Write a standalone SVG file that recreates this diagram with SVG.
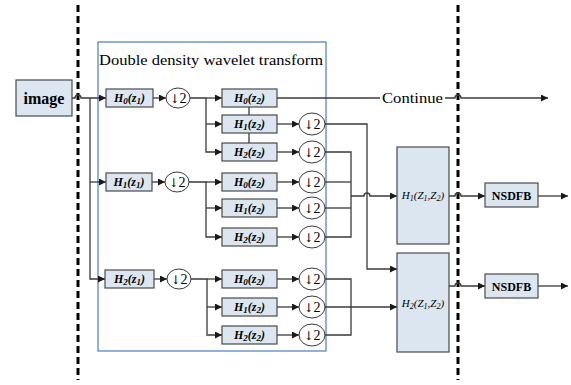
<svg xmlns="http://www.w3.org/2000/svg" width="571" height="385" viewBox="0 0 571 385">
<style>
.ln{fill:none;stroke:#3a3a3a;stroke-width:1.3}
.box{fill:#dce6f0;stroke:#4a4a4a;stroke-width:1.2}
.cir{fill:#fff;stroke:#3a3a3a;stroke-width:1}
.dash{fill:none;stroke:#000;stroke-width:3;stroke-dasharray:7,4}
.t{font-family:"Liberation Serif",serif;fill:#000}
.hl{font-family:"Liberation Serif",serif;font-size:12px;font-weight:bold;font-style:italic;text-anchor:middle;fill:#000}
.dl{font-family:"Liberation Serif",serif;font-size:14px;text-anchor:middle;fill:#000}
.ar{font-family:"DejaVu Serif","DejaVu Sans",serif;font-size:12px;fill:#000}
.bl{font-family:"Liberation Serif",serif;font-size:11px;font-style:italic;text-anchor:middle;fill:#000}
</style>
<defs>
<marker id="ar" markerUnits="userSpaceOnUse" markerWidth="8" markerHeight="8" refX="7" refY="3.5" orient="auto">
<path d="M0,0 L7,3.5 L0,7 z" fill="#1a1a1a"/>
</marker>
</defs>
<g id="boundaries">
<line class="dash" x1="78" y1="5" x2="78" y2="380"/>
<line class="dash" x1="458" y1="5" x2="458" y2="380"/>
<rect x="98" y="42" width="228" height="309" fill="none" stroke="#4a7cc7" stroke-width="1.2"/>
<text class="t" x="99" y="65" font-size="15" textLength="224" lengthAdjust="spacingAndGlyphs">Double density wavelet transform</text>
</g>
<g id="connectors">
<path class="ln" d="M72,98 H75 a3,3 0 0 1 6,0 H106" marker-end="url(#ar)"/>
<path class="ln" d="M90,98 V279 H105" marker-end="url(#ar)"/>
<path class="ln" d="M90,182 H106" marker-end="url(#ar)"/>
<path class="ln" d="M153,98 H166" marker-end="url(#ar)"/>
<path class="ln" d="M152,182 H165" marker-end="url(#ar)"/>
<path class="ln" d="M154,279 H167" marker-end="url(#ar)"/>
<path class="ln" d="M190,98 H206 V152 H222" marker-end="url(#ar)"/>
<path class="ln" d="M206,98 H222" marker-end="url(#ar)"/>
<path class="ln" d="M206,124 H222" marker-end="url(#ar)"/>
<path class="ln" d="M189,182 H206 V237 H222" marker-end="url(#ar)"/>
<path class="ln" d="M206,182 H222" marker-end="url(#ar)"/>
<path class="ln" d="M206,208 H222" marker-end="url(#ar)"/>
<path class="ln" d="M191,279 H207 V335 H222" marker-end="url(#ar)"/>
<path class="ln" d="M207,279 H222" marker-end="url(#ar)"/>
<path class="ln" d="M207,307 H222" marker-end="url(#ar)"/>
<line class="ln" x1="249" y1="107" x2="249" y2="115"/>
<line class="ln" x1="249" y1="133" x2="249" y2="143"/>
<path class="ln" d="M277,124 H299" marker-end="url(#ar)"/>
<path class="ln" d="M277,152 H299" marker-end="url(#ar)"/>
<path class="ln" d="M277,182 H299" marker-end="url(#ar)"/>
<path class="ln" d="M277,208 H299" marker-end="url(#ar)"/>
<path class="ln" d="M277,237 H299" marker-end="url(#ar)"/>
<path class="ln" d="M277,279 H299" marker-end="url(#ar)"/>
<path class="ln" d="M277,307 H299" marker-end="url(#ar)"/>
<path class="ln" d="M277,335 H299" marker-end="url(#ar)"/>
<path class="ln" d="M277,98 H380"/>
<path class="ln" d="M445,98 H455 a3,3 0 0 1 6,0 H548" marker-end="url(#ar)"/>
<path class="ln" d="M325,124 H367 V269 H397" marker-end="url(#ar)"/>
<path class="ln" d="M325,152 H351 V237 H325"/>
<path class="ln" d="M325,182 H351"/>
<path class="ln" d="M325,208 H351"/>
<path class="ln" d="M351,196 H364 a3,3 0 0 1 6,0 H397" marker-end="url(#ar)"/>
<path class="ln" d="M325,279 H351 V335 H325"/>
<path class="ln" d="M325,307 H397" marker-end="url(#ar)"/>
<path class="ln" d="M449,196 H455 a3,3 0 0 1 6,0 H485" marker-end="url(#ar)"/>
<path class="ln" d="M538,196 H568" marker-end="url(#ar)"/>
<path class="ln" d="M449,286 H455 a3,3 0 0 1 6,0 H485" marker-end="url(#ar)"/>
<path class="ln" d="M538,286 H568" marker-end="url(#ar)"/>
</g>
<g id="continue-label">
<text class="t" x="382" y="103" font-size="15" textLength="61" lengthAdjust="spacingAndGlyphs">Continue</text>
</g>
<g id="image">
<rect class="box" x="16" y="80" width="56" height="36"/>
<text class="t" x="44" y="104" font-size="16" font-weight="bold" text-anchor="middle">image</text>
</g>
<g id="h0z1">
<rect class="box" x="106" y="89" width="47" height="18"/>
<text class="hl" x="129.5" y="102">H<tspan font-size="9" dy="2">0</tspan><tspan dy="-2">(z</tspan><tspan font-size="9" dy="2">1</tspan><tspan dy="-2">)</tspan></text>
</g>
<g id="h1z1">
<rect class="box" x="106" y="173" width="46" height="18"/>
<text class="hl" x="129" y="186">H<tspan font-size="9" dy="2">1</tspan><tspan dy="-2">(z</tspan><tspan font-size="9" dy="2">1</tspan><tspan dy="-2">)</tspan></text>
</g>
<g id="h2z1">
<rect class="box" x="105" y="270" width="49" height="18"/>
<text class="hl" x="129.5" y="283" font-style="normal">H<tspan font-size="9" dy="2">2</tspan><tspan dy="-2">(z</tspan><tspan font-size="9" dy="2">1</tspan><tspan dy="-2">)</tspan></text>
</g>
<g id="ds1"><ellipse class="cir" cx="178" cy="98" rx="12" ry="10"/><text class="dl" x="178" y="103"><tspan class="ar">↓︎</tspan>2</text></g>
<g id="ds2"><ellipse class="cir" cx="177" cy="182" rx="12" ry="10"/><text class="dl" x="177" y="187"><tspan class="ar">↓︎</tspan>2</text></g>
<g id="ds3"><ellipse class="cir" cx="179" cy="279" rx="12" ry="10"/><text class="dl" x="179" y="284"><tspan class="ar">↓︎</tspan>2</text></g>
<g id="g1h0"><rect class="box" x="222" y="89" width="55" height="18"/><text class="hl" x="249.5" y="102">H<tspan font-size="9" dy="2">0</tspan><tspan dy="-2">(z</tspan><tspan font-size="9" dy="2">2</tspan><tspan dy="-2">)</tspan></text></g>
<g id="g1h1"><rect class="box" x="222" y="115" width="55" height="18"/><text class="hl" x="249.5" y="128">H<tspan font-size="9" dy="2">1</tspan><tspan dy="-2">(z</tspan><tspan font-size="9" dy="2">2</tspan><tspan dy="-2">)</tspan></text></g>
<g id="g1h2"><rect class="box" x="222" y="143" width="55" height="18"/><text class="hl" x="249.5" y="156">H<tspan font-size="9" dy="2">2</tspan><tspan dy="-2">(z</tspan><tspan font-size="9" dy="2">2</tspan><tspan dy="-2">)</tspan></text></g>
<g id="g2h0"><rect class="box" x="222" y="173" width="55" height="18"/><text class="hl" x="249.5" y="186">H<tspan font-size="9" dy="2">0</tspan><tspan dy="-2">(z</tspan><tspan font-size="9" dy="2">2</tspan><tspan dy="-2">)</tspan></text></g>
<g id="g2h1"><rect class="box" x="222" y="199" width="55" height="18"/><text class="hl" x="249.5" y="212">H<tspan font-size="9" dy="2">1</tspan><tspan dy="-2">(z</tspan><tspan font-size="9" dy="2">2</tspan><tspan dy="-2">)</tspan></text></g>
<g id="g2h2"><rect class="box" x="222" y="228" width="55" height="18"/><text class="hl" x="249.5" y="241">H<tspan font-size="9" dy="2">2</tspan><tspan dy="-2">(z</tspan><tspan font-size="9" dy="2">2</tspan><tspan dy="-2">)</tspan></text></g>
<g id="g3h0"><rect class="box" x="222" y="270" width="55" height="18"/><text class="hl" x="249.5" y="283">H<tspan font-size="9" dy="2">0</tspan><tspan dy="-2">(z</tspan><tspan font-size="9" dy="2">2</tspan><tspan dy="-2">)</tspan></text></g>
<g id="g3h1"><rect class="box" x="222" y="298" width="55" height="18"/><text class="hl" x="249.5" y="311">H<tspan font-size="9" dy="2">1</tspan><tspan dy="-2">(z</tspan><tspan font-size="9" dy="2">2</tspan><tspan dy="-2">)</tspan></text></g>
<g id="g3h2"><rect class="box" x="222" y="326" width="55" height="18"/><text class="hl" x="249.5" y="339">H<tspan font-size="9" dy="2">2</tspan><tspan dy="-2">(z</tspan><tspan font-size="9" dy="2">2</tspan><tspan dy="-2">)</tspan></text></g>
<g id="d11"><ellipse class="cir" cx="312" cy="124" rx="13" ry="11"/><text class="dl" x="312" y="129"><tspan class="ar">↓︎</tspan>2</text></g>
<g id="d12"><ellipse class="cir" cx="312" cy="152" rx="13" ry="11"/><text class="dl" x="312" y="157"><tspan class="ar">↓︎</tspan>2</text></g>
<g id="d21"><ellipse class="cir" cx="312" cy="182" rx="13" ry="11"/><text class="dl" x="312" y="187"><tspan class="ar">↓︎</tspan>2</text></g>
<g id="d22"><ellipse class="cir" cx="312" cy="208" rx="13" ry="11"/><text class="dl" x="312" y="213"><tspan class="ar">↓︎</tspan>2</text></g>
<g id="d23"><ellipse class="cir" cx="312" cy="237" rx="13" ry="11"/><text class="dl" x="312" y="242"><tspan class="ar">↓︎</tspan>2</text></g>
<g id="d31"><ellipse class="cir" cx="312" cy="279" rx="13" ry="11"/><text class="dl" x="312" y="284"><tspan class="ar">↓︎</tspan>2</text></g>
<g id="d32"><ellipse class="cir" cx="312" cy="307" rx="13" ry="11"/><text class="dl" x="312" y="312"><tspan class="ar">↓︎</tspan>2</text></g>
<g id="d33"><ellipse class="cir" cx="312" cy="335" rx="13" ry="11"/><text class="dl" x="312" y="340"><tspan class="ar">↓︎</tspan>2</text></g>
<g id="hz1"><rect class="box" x="397" y="147" width="52" height="97"/><text class="bl" x="423" y="199">H<tspan font-size="8" dy="2">1</tspan><tspan dy="-2">(Z</tspan><tspan font-size="8" dy="2">1</tspan><tspan dy="-2">,Z</tspan><tspan font-size="8" dy="2">2</tspan><tspan dy="-2">)</tspan></text></g>
<g id="hz2"><rect class="box" x="397" y="253" width="52" height="99"/><text class="bl" x="423" y="307">H<tspan font-size="8" dy="2">2</tspan><tspan dy="-2">(Z</tspan><tspan font-size="8" dy="2">1</tspan><tspan dy="-2">,Z</tspan><tspan font-size="8" dy="2">2</tspan><tspan dy="-2">)</tspan></text></g>
<g id="nsdfb1"><rect class="box" x="485" y="183" width="53" height="24"/><text class="t" x="511.5" y="200" font-size="12" font-weight="bold" text-anchor="middle">NSDFB</text></g>
<g id="nsdfb2"><rect class="box" x="485" y="274" width="53" height="24"/><text class="t" x="511.5" y="291" font-size="12" font-weight="bold" text-anchor="middle">NSDFB</text></g>
</svg>
